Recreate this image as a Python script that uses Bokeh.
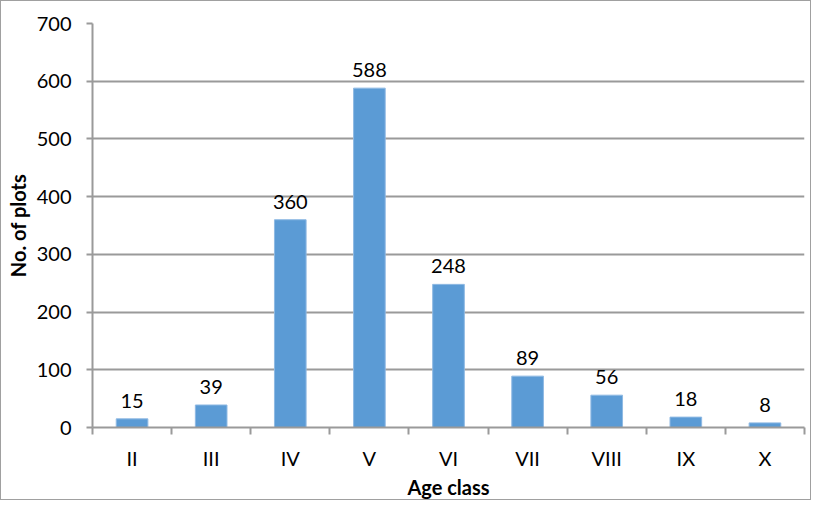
from bokeh.plotting import figure
from bokeh.models import FixedTicker, ColumnDataSource, LabelSet, Range1d
from bokeh.core.properties import value
from bokeh.embed import file_html
from bokeh.resources import INLINE

categories = ["II", "III", "IV", "V", "VI", "VII", "VIII", "IX", "X"]
plots = [15, 39, 360, 588, 248, 89, 56, 18, 8]
y_ticks = [0, 100, 200, 300, 400, 500, 600, 700]

FONT = "Lato"
GRID = "#9a9a9a"

xs = [i + 0.5 for i in range(len(categories))]
src = ColumnDataSource(dict(x=xs, top=plots, label=[str(v) for v in plots]))

p = figure(width=811, height=500, output_backend="svg", toolbar_location=None,
           x_range=Range1d(0, len(categories)), y_range=Range1d(0, 700),
           min_border_left=91, min_border_top=22, min_border_right=8, min_border_bottom=70)
p.styles = {"border": "1px solid #a0a0a0", "box-sizing": "border-box"}
p.outline_line_color = None
p.background_fill_color = "white"

p.vbar(x="x", top="top", width=0.4, source=src, fill_color="#5b9bd5",
       line_color="#8fb9e3", line_width=1)

labels = LabelSet(x="x", y="top", text="label", source=src, text_align="center",
                  text_baseline="bottom", y_offset=11, text_font=value(FONT),
                  text_font_size="20px", text_color="#000000")
p.add_layout(labels)

# x axis
p.xaxis.ticker = FixedTicker(ticks=xs, minor_ticks=list(range(len(categories) + 1)))
p.xaxis.major_label_overrides = {x: c for x, c in zip(xs, categories)}
p.xaxis.major_tick_out = 0
p.xaxis.major_tick_in = 0
p.xaxis.minor_tick_out = 7
p.xaxis.minor_tick_in = 0
p.xaxis.minor_tick_line_color = GRID
p.xaxis.axis_line_color = GRID
p.xaxis.axis_line_width = 2
p.xaxis.minor_tick_line_width = 2
p.xaxis.major_label_standoff = 11
p.xaxis.major_label_text_font = FONT
p.xaxis.major_label_text_font_size = "20px"
p.xaxis.major_label_text_color = "#000000"
p.xaxis.axis_label = "Age class"
p.xaxis.axis_label_text_font = FONT
p.xaxis.axis_label_text_font_size = "20px"
p.xaxis.axis_label_text_font_style = "bold"
p.xaxis.axis_label_standoff = 2
p.xaxis.axis_label_text_color = "#000000"

# y axis
p.yaxis.ticker = FixedTicker(ticks=y_ticks)
p.yaxis.minor_tick_line_color = None
p.yaxis.major_tick_out = 6
p.yaxis.major_tick_in = 0
p.yaxis.major_tick_line_color = GRID
p.yaxis.major_tick_line_width = 2
p.yaxis.axis_line_color = GRID
p.yaxis.axis_line_width = 2
p.yaxis.major_label_standoff = 15
p.yaxis.major_label_text_font = FONT
p.yaxis.major_label_text_font_size = "20px"
p.yaxis.major_label_text_color = "#000000"
p.yaxis.axis_label = "No. of plots"
p.yaxis.axis_label_text_font = FONT
p.yaxis.axis_label_text_font_size = "20px"
p.yaxis.axis_label_text_font_style = "bold"
p.yaxis.axis_label_standoff = 4
p.yaxis.axis_label_text_color = "#000000"

p.xgrid.grid_line_color = None
p.ygrid.ticker = FixedTicker(ticks=y_ticks)
p.ygrid.grid_line_color = GRID
p.ygrid.grid_line_width = 2

open("out.html", "w").write(file_html(p, INLINE))
